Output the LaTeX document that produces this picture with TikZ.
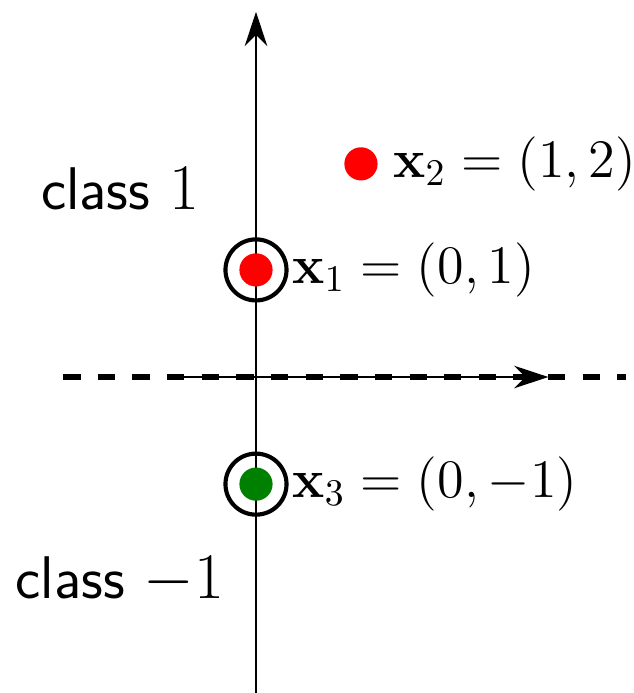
\documentclass[tikz,border=0pt]{standalone}
\usetikzlibrary{arrows.meta}
\definecolor{ptred}{RGB}{255, 0, 0}
\definecolor{ptgreen}{RGB}{0, 128, 0}
\tikzset{
	dot/.style={circle, inner sep=0pt, minimum size=0.31cm},
	ring/.style={circle, draw, line width=1.1pt, minimum size=0.57cm},
	axis/.style={-{Stealth[length=3.2mm, width=2.1mm]}, semithick},
	sep/.style={line width=1.4pt, dash pattern=on 4.6pt off 4.6pt},
	lbl/.style={anchor=west, inner sep=1pt, font=\Large},
	cls/.style={font=\fontsize{16}{19}\selectfont\sffamily},
}
\begin{document}
\begin{tikzpicture}
	\useasboundingbox (-2.39,-2.95) rectangle (3.52,3.52);
	% axes and separating line
	\coordinate (ybot) at (0,-2.95);
	\coordinate (ytop) at (0,3.41);
	\coordinate (wstart) at (-0.83,0);
	\coordinate (wend) at (2.73,0);
	\coordinate (hl) at (-1.80,0);
	\coordinate (hr) at (3.45,0);
	\draw[axis] (ybot) -- (ytop);
	\draw[axis] (wstart) -- (wend);
	\draw[sep] (hl) -- (hr);
	% points
	\node[dot, fill=ptred] (p1) at (0,1) {};
	\node[dot, fill=ptred] (p2) at (0.98,1.99) {};
	\node[dot, fill=ptgreen] (p3) at (0,-1) {};
	\node[ring] (r1) at (p1) {};
	\node[ring] (r3) at (p3) {};
	% labels
	\node[lbl] (l1) at (0.30,1) {$\mathbf{x}_1 = (0,1)$};
	\node[lbl] (l2) at (1.24,1.99) {$\mathbf{x}_2 = (1,2)$};
	\node[lbl] (l3) at (0.30,-1) {$\mathbf{x}_3 = (0,-1)$};
	\node[cls] (c1) at (-1.27,1.76) {class $1$};
	\node[cls] (c2) at (-1.27,-1.90) {class $-1$};
\end{tikzpicture}
\end{document}
